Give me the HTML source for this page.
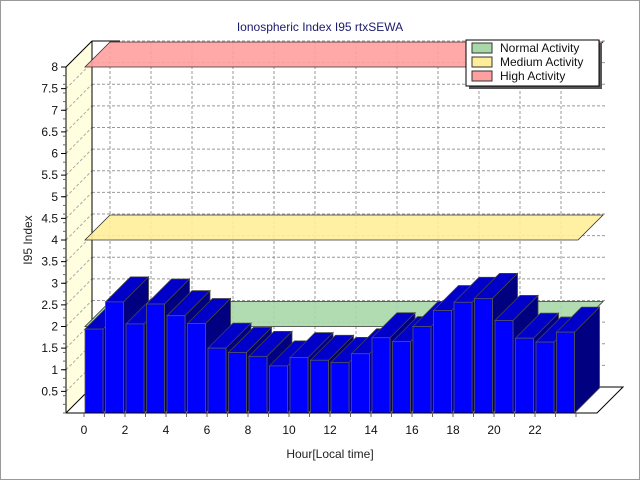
<!DOCTYPE html>
<html><head><meta charset="utf-8"><style>
html,body{margin:0;padding:0;background:#fff}
svg{display:block;font-family:"Liberation Sans","DejaVu Sans",sans-serif}
</style></head><body>
<svg id="c" width="640" height="480" viewBox="0 0 640 480">
<rect x="0.5" y="0.5" width="639" height="479" fill="#fff" stroke="#999"/>
<text x="320" y="31" text-anchor="middle" font-size="12" fill="#1a1a6e">Ionospheric Index I95 rtxSEWA</text>
<text x="32" y="240" text-anchor="middle" font-size="12" fill="#222" transform="rotate(-90 32 240)">I95 Index</text>
<text x="330" y="458" text-anchor="middle" font-size="12" fill="#222">Hour[Local time]</text>
<g id="plot"></g>
<g>
<rect x="469" y="43" width="133" height="46" fill="#555"/>
<rect x="466" y="40" width="133" height="46" fill="#fff" stroke="#000"/>
<g><rect x="472" y="43" width="20" height="10" fill="#a8d8a8" stroke="#333"/><text x="500" y="52" font-size="12" fill="#111">Normal Activity</text></g>
<g><rect x="472" y="57" width="20" height="10" fill="#ffee99" stroke="#333"/><text x="500" y="66" font-size="12" fill="#111">Medium Activity</text></g>
<g><rect x="472" y="71" width="20" height="10" fill="#ffa0a0" stroke="#333"/><text x="500" y="80" font-size="12" fill="#111">High Activity</text></g>
</g>
</svg>
<script>
const hours=[0,1,2,3,4,5,6,7,8,9,10,11,12,13,14,15,16,17,18,19,20,21,22,23];
const values=[1.94,2.57,2.06,2.52,2.25,2.07,1.50,1.40,1.31,1.09,1.28,1.22,1.17,1.37,1.74,1.65,2.00,2.37,2.56,2.65,2.14,1.73,1.64,1.87];
const yTicks=[0.5,1,1.5,2,2.5,3,3.5,4,4.5,5,5.5,6,6.5,7,7.5,8];
const xTickLabels=[0,2,4,6,8,10,12,14,16,18,20,22];
const bandLevels=[2,4,8];
const bandColors=["#a8d8a8","#ffee99","#ffa0a0"];
const bandNames=["band-normal","band-medium","band-high"];

const NS="http://www.w3.org/2000/svg";
const g=document.getElementById('plot');
const X0=85,PITCH=20.5,BW=18,Y0=413,UNIT=43.25,DX=25,DY=-25;
const xs=i=>X0+i*PITCH;
const ys=v=>Y0-v*UNIT;
function mk(tag,attrs,name){const e=document.createElementNS(NS,tag);for(const k in attrs)e.setAttribute(k,attrs[k]);


g.appendChild(e);return e;}
const P=a=>a.map(p=>p.join(',')).join(' ');
// left wall
mk('polygon',{points:P([[66,ys(8)],[92,ys(8)-26],[92,Y0-26],[66,Y0]]),fill:'#ffffe0',stroke:'none'},'left-wall');
// back grid
for(const v of yTicks){
 mk('line',{x1:92,y1:ys(v)-26,x2:605,y2:ys(v)-26,stroke:'#999','stroke-dasharray':'3,2'},'grid-h');
 mk('line',{x1:66,y1:ys(v),x2:92,y2:ys(v)-26,stroke:'#aaa','stroke-dasharray':'3,2'},'grid-wall');
}
for(const h of xTickLabels){const x=xs(h)+DX;
 mk('line',{x1:x,y1:ys(8)-26,x2:x,y2:Y0-26,stroke:'#999','stroke-dasharray':'3,2'},'grid-v');}
mk('line',{x1:92,y1:ys(8)-26,x2:92,y2:Y0-26,stroke:'#000'},'back-left-edge');
mk('line',{x1:92,y1:ys(8)-26,x2:120,y2:ys(8)-26,stroke:'#000'},'back-top-edge');
mk('line',{x1:66,y1:ys(8),x2:92,y2:ys(8)-26,stroke:'#000'},'wall-top-edge');
// floor
mk('polygon',{points:P([[66,Y0],[597,Y0],[623,Y0-26],[92,Y0-26]]),fill:'#fff',stroke:'#000'},'floor');
// bands
bandLevels.forEach((v,i)=>{const y=ys(v);
 mk('polygon',{points:P([[X0,y],[578,y],[578+DX,y+DY],[X0+DX,y+DY]]),fill:bandColors[i],'fill-opacity':0.9,stroke:'#333','stroke-width':0.8},bandNames[i]);});
// bars
values.forEach((v,i)=>{const x=xs(i),y=ys(v);
 mk('polygon',{points:P([[x+BW,y],[x+BW+DX,y+DY],[x+BW+DX,Y0+DY],[x+BW,Y0]]),fill:'#000080',stroke:'#444','stroke-width':0.8},'bar-side-'+hours[i]);
 mk('polygon',{points:P([[x,y],[x+DX,y+DY],[x+BW+DX,y+DY],[x+BW,y]]),fill:'#0000c8',stroke:'#444','stroke-width':0.8},'bar-top-'+hours[i]);
 mk('rect',{x:x,y:y,width:BW,height:Y0-y,fill:'#0000ff',stroke:'#555','stroke-width':0.8},'bar-'+hours[i]);
});
// axes
mk('line',{x1:66,y1:ys(8),x2:66,y2:Y0,stroke:'#000'},'y-axis');
mk('line',{x1:66,y1:Y0,x2:597,y2:Y0,stroke:'#000'},'x-axis');
for(let k=0;k<=40;k++){const y=ys(k*0.2);
 mk('line',{x1:63,y1:y,x2:66,y2:y,stroke:'#666'},'y-minor-tick');}
yTicks.forEach(v=>{mk('line',{x1:61,y1:ys(v),x2:66,y2:ys(v),stroke:'#000'},'y-tick');
 const t=mk('text',{x:58,y:ys(v)+4,'text-anchor':'end','font-size':12,fill:'#111'},'y-tick-label');t.textContent=v;});
for(let i=0;i<=24;i++){const x=X0+i*PITCH-1;mk('line',{x1:x,y1:Y0,x2:x,y2:Y0+4,stroke:'#666'},'x-tick');}
xTickLabels.forEach(h=>{const t=mk('text',{x:xs(h)-1,y:434,'text-anchor':'middle','font-size':12,fill:'#111'},'x-tick-label');t.textContent=h;});
</script>
</body></html>
